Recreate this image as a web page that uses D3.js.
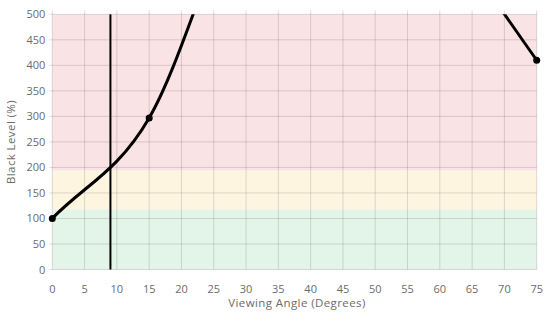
<!DOCTYPE html>
<html><head><meta charset="utf-8">
<script src="https://cdn.jsdelivr.net/npm/d3@7"></script>
<style>body{margin:0;background:#fff}svg{display:block}</style>
</head><body><svg id="c" width="557" height="313"></svg>
<script>
const angles = [0, 15, 30, 45, 60, 75];
const blackLevel = [100, 297, 750, 940, 680, 410];
const xTicks = [0,5,10,15,20,25,30,35,40,45,50,55,60,65,70,75];
const yTicks = [0,50,100,150,200,250,300,350,400,450,500];
const bands = [{from:0,to:118,color:"#e3f4e8"},{from:118,to:194,color:"#fdf5df"},{from:194,to:500,color:"#f9e3e4"}];
const markerAngle = 9;

// Excel-like smoothing curve (Catmull-Rom interior, straight end tangents)
function ExcelSmooth(context){ this._context = context; }
ExcelSmooth.prototype = {
  areaStart(){}, areaEnd(){},
  lineStart(){ this._pts = []; },
  point(x,y){ this._pts.push([+x,+y]); },
  lineEnd(){
    const p = this._pts, n = p.length, c = this._context;
    if (!n) return;
    const T = p.map((d,i)=>{
      if (i===0) return [p[1][0]-p[0][0], p[1][1]-p[0][1]];
      if (i===n-1) return [p[n-1][0]-p[n-2][0], p[n-1][1]-p[n-2][1]];
      return [(p[i+1][0]-p[i-1][0])/2, (p[i+1][1]-p[i-1][1])/2];
    });
    c.moveTo(p[0][0],p[0][1]);
    for (let i=0;i<n-1;i++){
      c.bezierCurveTo(p[i][0]+T[i][0]/3, p[i][1]+T[i][1]/3,
                      p[i+1][0]-T[i+1][0]/3, p[i+1][1]-T[i+1][1]/3,
                      p[i+1][0], p[i+1][1]);
    }
  }
};
const excelSmooth = ctx => new ExcelSmooth(ctx);

const svg = d3.select("#c");
const m = {l:52.3, r:536.7, t:14.3, b:269.5};
const x = d3.scaleLinear().domain([0,75]).range([m.l,m.r]);
const y = d3.scaleLinear().domain([0,500]).range([m.b,m.t]);
const font = "'Open Sans', sans-serif";
const tc = "#6b6b6b";

svg.append("defs").append("clipPath").attr("id","clip").append("rect")
  .attr("x",m.l).attr("y",m.t).attr("width",m.r-m.l).attr("height",m.b-m.t);

svg.selectAll(".band").data(bands).join("rect")
  .attr("x",m.l).attr("width",m.r-m.l)
  .attr("y",d=>y(d.to)).attr("height",d=>y(d.from)-y(d.to))
  .attr("fill",d=>d.color);

const gc = "rgba(0,0,0,0.13)";
svg.selectAll(".vg").data(xTicks).join("line")
  .attr("x1",d=>x(d)).attr("x2",d=>x(d)).attr("y1",m.t-4).attr("y2",m.b)
  .attr("stroke",gc).attr("stroke-width",1);
svg.selectAll(".hg").data(yTicks).join("line")
  .attr("x1",m.l-3).attr("x2",m.r).attr("y1",d=>y(d)).attr("y2",d=>y(d))
  .attr("stroke",gc).attr("stroke-width",1);

svg.selectAll(".xt").data(xTicks).join("text")
  .attr("x",d=>x(d)).attr("y",293).attr("text-anchor","middle")
  .attr("font-family",font).attr("font-size",11).attr("fill",tc).text(d=>d);
svg.selectAll(".yt").data(yTicks).join("text")
  .attr("x",m.l-7).attr("y",d=>y(d)+4).attr("text-anchor","end")
  .attr("font-family",font).attr("font-size",11).attr("fill",tc).text(d=>d);

svg.append("text").attr("x",297).attr("y",307).attr("text-anchor","middle")
  .attr("font-family",font).attr("font-size",11.5).attr("letter-spacing",0.4).attr("fill",tc).text("Viewing Angle (Degrees)");
svg.append("text").attr("transform",`translate(15,142) rotate(-90)`).attr("text-anchor","middle")
  .attr("font-family",font).attr("font-size",11.5).attr("letter-spacing",0.4).attr("fill",tc).text("Black Level (%)");

const pts = angles.map((a,i)=>[a,blackLevel[i]]);
const line = d3.line().x(d=>x(d[0])).y(d=>y(d[1])).curve(excelSmooth);
const g = svg.append("g").attr("clip-path","url(#clip)");
g.append("path").datum(pts).attr("d",line).attr("fill","none").attr("stroke","#000").attr("stroke-width",3);

svg.append("line").attr("x1",x(markerAngle)).attr("x2",x(markerAngle)).attr("y1",m.t).attr("y2",m.b)
  .attr("stroke","#000").attr("stroke-width",2);

svg.selectAll(".pt").data(pts.filter(d=>d[1]<=500)).join("circle")
  .attr("cx",d=>x(d[0])).attr("cy",d=>y(d[1])).attr("r",3.5).attr("fill","#000");
</script></body></html>
